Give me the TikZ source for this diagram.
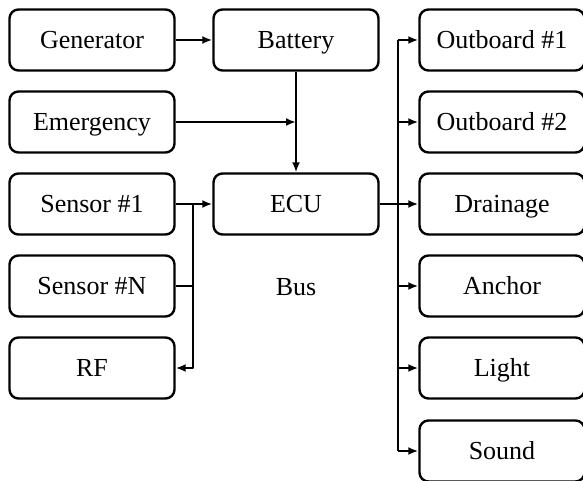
\documentclass[tikz,border=0pt]{standalone}
\usepackage{fontspec}
\setmainfont{Liberation Serif}
\usetikzlibrary{arrows.meta}
\tikzset{
  unit/.style={draw, line width=2.4pt, rounded corners=9pt, minimum width=165pt, minimum height=61pt, inner sep=0pt, text height=17pt, text depth=0pt, font=\fontsize{26}{30}\selectfont},
  wire/.style={line width=2.4pt},
  link/.style={wire, -{Latex[length=10pt,width=8pt]}},
}
\begin{document}
\begin{tikzpicture}[x=1pt, y=-1pt, line join=round]
	\useasboundingbox (0,0) rectangle (583,481);
	% left column
	\node[unit] (gen) at (92,40) {Generator};
	\node[unit] (emg) at (92,122) {Emergency};
	\node[unit] (sa) at (92,204) {Sensor \#1};
	\node[unit] (sn) at (92,286) {Sensor \#N};
	\node[unit] (rf) at (92,368) {RF};
	% middle column
	\node[unit] (bat) at (296,40) {Battery};
	\node[unit] (ecu) at (296,204) {ECU};
	\node[font=\fontsize{26}{30}\selectfont, text height=17pt, text depth=0pt] (bus) at (296,287) {Bus};
	% right column
	\node[unit] (oba) at (502,40) {Outboard \#1};
	\node[unit] (obb) at (502,122) {Outboard \#2};
	\node[unit] (drn) at (502,204) {Drainage};
	\node[unit] (anc) at (502,286) {Anchor};
	\node[unit] (lgt) at (502,368) {Light};
	\node[unit] (snd) at (502,451) {Sound};
	\coordinate (sl) at (193,204);
	\coordinate (rl) at (398,204);
	% connectors
	\draw[link] (gen) -- (bat);
	\draw[link] (bat) -- (ecu);
	\draw[link] (emg) -- (emg -| bat);
	\draw[link] (sa) -- (ecu);
	\draw[link] (sl) |- (rf.east);
	\draw[wire] (sn) -- (sn -| sl);
	\draw[link] (ecu) -- (drn);
	\draw[wire] (rl |- oba) -- (rl |- snd);
	\foreach \dev in {oba,obb,anc,lgt,snd} \draw[link] (rl |- \dev) -- (\dev);
\end{tikzpicture}
\end{document}
